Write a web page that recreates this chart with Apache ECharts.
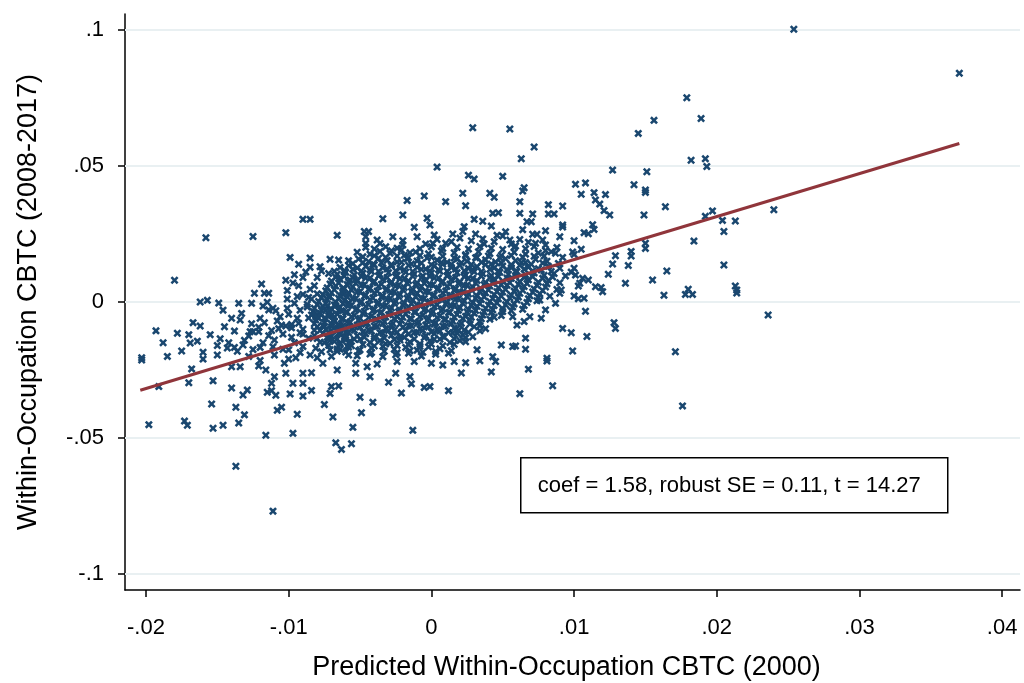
<!DOCTYPE html>
<html>
<head>
<meta charset="utf-8">
<script src="https://cdn.jsdelivr.net/npm/echarts@6/dist/echarts.min.js"></script>
<style>
  html, body { margin: 0; padding: 0; background: #ffffff; }
  #chart { width: 1024px; height: 683px; }
</style>
</head>
<body>
<div id="chart"></div>
<script>
// Occupations: [predicted within-occupation CBTC (2000), within-occupation CBTC (2008-2017)]
const occupationPoints = [
  // upper tail
  [.0029,.0641],[.0055,.0636],[.0072,.0570],[.0063,.0527],[.0004,.0496],[.0026,.0466],[.0030,.0452],[.0050,.0462],[.0065,.0420],
  [.0179,.0751],[.0156,.0668],[.0189,.0675],[.0145,.0620],[.0182,.0521],[.0192,.0527],[.0193,.0498],[.0127,.0485],[.0151,.0479],
  [.0101,.0433],[.0108,.0438],[.0142,.0431],[.0150,.0412],[.0254,.1003],[.0370,.0841],
  // right side
  [.0105,.0396],[.0114,.0402],[.0122,.0395],[.0150,.0403],[.0115,.0375],[.0118,.0360],[.0121,.0336],[.0125,.0320],[.0164,.0350],
  [.0149,.0320],[.0192,.0315],[.0197,.0335],[.0204,.0300],[.0213,.0298],[.0240,.0339],[.0205,.0259],[.0184,.0224],[.0113,.0284],
  [.0114,.0267],[.0107,.0255],[.0110,.0251],[.0100,.0225],[.0105,.0194],[.0099,.0184],[.0100,.0175],[.0150,.0216],[.0150,.0197],
  [.0140,.0186],[.0140,.0169],[.0129,.0170],[.0127,.0140],[.0138,.0134],[.0205,.0136],[.0165,.0114],[.0124,.0102],[.0155,.0081],
  [.0136,.0069],[.0110,.0081],[.0106,.0087],[.0100,.0124],[.0098,.0110],[.0101,.0099],[.0104,.0069],[.0103,.0059],[.0115,.0056],
  [.0119,.0053],[.0120,.0038],[.0100,.0022],[.0103,.0012],[.0107,.0014],[.0163,.0025],[.0180,.0047],[.0178,.0028],[.0183,.0028],
  [.0213,.0059],[.0214,.0044],[.0214,.0033],[.0108,-.0034],[.0128,-.0076],[.0129,-.0097],[.0098,-.0113],[.0109,-.0127],
  [.0099,-.0180],[.0171,-.0183],[.0236,-.0048],[.0176,-.0382],
  // lower middle
  [-.0050,-.0350],[-.0041,-.0369],[-.0049,-.0407],[-.0055,-.0461],[-.0056,-.0521],[-.0013,-.0472],[-.0030,-.0295],[-.0021,-.0335],
  [.0012,-.0326],[.0062,-.0337],[.0085,-.0308],[.0068,-.0247],[.0042,-.0257],[.0021,-.0261],[-.0014,-.0301],[-.0005,-.0314],
  [-.0001,-.0311],[-.0015,-.0275],[-.0025,-.0262],[-.0043,-.0275],[-.0053,-.0262],
  [-.0053,-.0225],[-.0045,-.0238],[-.0038,-.0228],[-.0024,-.0219],[-.0012,-.0219],[.0000,-.0225],[.0008,-.0232],[.0016,-.0219],
  [.0024,-.0223],[.0034,-.0216],[.0045,-.0219],[.0081,-.0217],
  // lower left
  [-.0198,-.0451],[-.0173,-.0438],[-.0171,-.0453],[-.0153,-.0464],[-.0146,-.0453],[-.0135,-.0445],[-.0131,-.0415],[-.0137,-.0387],
  [-.0154,-.0375],[-.0116,-.0490],[-.0097,-.0483],[-.0137,-.0604],[-.0111,-.0769],[-.0067,-.0518],[-.0063,-.0542],[-.0094,-.0413],
  [-.0075,-.0377],[-.0069,-.0423],[-.0108,-.0398],[-.0105,-.0387],[-.0132,-.0342],[-.0129,-.0324],[-.0140,-.0316],[-.0153,-.0290],
  [-.0170,-.0297],[-.0191,-.0311],[-.0168,-.0246],[-.0203,-.0213],[-.0115,-.0332],[-.0109,-.0343],[-.0112,-.0326],[-.0099,-.0338],
  [-.0090,-.0346],[-.0084,-.0325],[-.0071,-.0336],[-.0065,-.0309],[-.0070,-.0311],[-.0112,-.0299],[-.0097,-.0299],[-.0090,-.0299],
  [-.0110,-.0275],[-.0102,-.0262],[-.0090,-.0262],[-.0084,-.0260],[-.0116,-.0250],[-.0140,-.0238],[-.0134,-.0238],[-.0121,-.0235],
  [-.0103,-.0225],[-.0066,-.0250],[-.0076,-.0225],
  // left side
  [-.0180,.0080],[-.0158,.0236],[-.0125,.0241],[-.0102,.0255],[-.0090,.0304],[-.0085,.0304],[-.0066,.0245],[-.0099,.0164],
  [-.0093,.0139],[-.0085,.0162],[-.0085,.0128],[-.0071,.0157],[-.0065,.0154],[-.0077,.0114],[-.0072,.0105],[-.0068,.0113],
  [-.0061,.0114],[-.0162,.0000],[-.0157,.0006],[-.0149,-.0004],[-.0135,-.0005],[-.0126,-.0005],[-.0119,.0066],[-.0124,.0032],
  [-.0117,.0032],[-.0114,.0032],[-.0102,.0080],[-.0097,.0070],[-.0101,.0042],[-.0101,.0011],[-.0101,-.0023],[-.0085,.0047],
  [-.0090,.0028],[-.0086,.0017],[-.0084,.0011],[-.0087,-.0008],[-.0087,-.0018],[-.0081,-.0054],[-.0078,-.0042],[-.0072,.0019],
  [-.0073,-.0015],[-.0074,-.0032],[-.0067,-.0014],[-.0063,-.0032],[-.0058,-.0003],[-.0058,.0034],[-.0062,.0028],[-.0118,-.0015],
  [-.0115,-.0001],[-.0114,-.0029],[-.0111,-.0023],[-.0109,-.0032],[-.0106,-.0054],[-.0133,-.0042],[-.0134,-.0066],[-.0162,-.0088],
  [-.0167,-.0076],[-.0193,-.0106],[-.0178,-.0115],[-.0169,-.0151],[-.0164,-.0144],[-.0203,-.0205],[-.0185,-.0200],[-.0145,-.0091],
  [-.0138,-.0107],[-.0131,-.0141],[-.0127,-.0109],[-.0125,-.0109],[-.0121,-.0093],[-.0121,-.0109],[-.0114,-.0124],[-.0117,-.0076],
  [-.0107,-.0098],[-.0102,-.0088],[-.0098,-.0083],[-.0092,-.0113],[-.0086,-.0133],[-.0082,-.0104],[-.0079,-.0059],[-.0075,-.0089],
  [-.0070,-.0091],[-.0065,-.0083],[-.0143,-.0169],[-.0138,-.0167],[-.0136,-.0181],[-.0120,-.0167],[-.0111,-.0165],[-.0104,-.0174],
  [-.0100,-.0176],[-.0092,-.0186],[-.0090,-.0164],[-.0081,-.0170],[-.0077,-.0183],[-.0071,-.0176],[-.0066,-.0181],[-.0064,-.0174],
  [-.0059,-.0162],[-.0061,-.0128],[-.0065,-.0115],[-.0062,.0050],[-.0057,.0081],
  [-.0080,-.0045],[-.0075,-.0060],[-.0070,-.0050],[-.0068,-.0070],[-.0062,-.0060],[-.0058,-.0080],[-.0072,-.0130],[-.0068,-.0145],
  [-.0060,-.0140],[-.0075,-.0150],[-.0058,-.0195],[-.0070,-.0200],[-.0080,-.0205],[-.0085,-.0195],[-.0095,-.0205],[-.0110,-.0195],
  [-.0128,-.0200],[-.0150,-.0195],[-.0160,-.0210],[-.0120,-.0215],[-.0100,-.0210],
  [-.0155,-.0120],[-.0148,-.0135],[-.0142,-.0150],[-.0150,-.0160],[-.0128,-.0125],[-.0132,-.0158],[-.0125,-.0175],[-.0118,-.0150],
  [-.0110,-.0140],[-.0104,-.0118],[-.0098,-.0130],[-.0096,-.0150],[-.0090,-.0100],[-.0094,-.0060],[-.0100,-.0045],[-.0092,-.0030],
  [-.0096,-.0005],[-.0094,.0020],[-.0093,.0060],[-.0090,.0090],[-.0088,.0110],[-.0096,.0100],[-.0080,.0090],[-.0082,.0060],
  [-.0080,.0030],[-.0078,.0130],[-.0140,-.0060],[-.0146,-.0030],[-.0120,-.0060],[-.0126,-.0080],[-.0108,-.0070],[-.0112,-.0105],
  [-.0170,-.0120],[-.0175,-.0180],[-.0160,-.0185],[-.0188,-.0150],
  [-.0093,-.0078],[-.0098,-.0095],[-.0105,-.0085],[-.0090,-.0118],
  // upper middle
  [-.0005,.0390],[-.0017,.0373],[.0010,.0369],[.0022,.0400],[.0024,.0354],[.0041,.0400],[.0044,.0385],[.0062,.0369],[.0064,.0408],
  [-.0034,.0306],[-.0020,.0320],[-.0003,.0308],[-.0001,.0283],[-.0012,.0275],[.0030,.0304],[.0036,.0297],[.0042,.0279],[.0043,.0326],
  [.0047,.0328],[.0062,.0326],[.0071,.0324],[.0067,.0295],[.0070,.0295],[.0082,.0358],[.0082,.0324],[.0086,.0324],[.0092,.0353],
  [.0092,.0283],[.0092,.0276],[-.0047,.0259],[-.0044,.0259],[-.0046,.0240],[-.0038,.0228],[-.0027,.0240],[-.0020,.0225],[-.0046,.0216],
  [-.0046,.0201],[-.0028,.0188],[-.0021,.0191],[-.0015,.0181],[-.0004,.0213],[.0002,.0246],[.0001,.0216],[.0010,.0216],[.0014,.0222],
  [.0023,.0277],[.0022,.0259],[.0031,.0250],[.0037,.0213],[.0046,.0245],[.0050,.0243],[.0055,.0228],[.0056,.0213],[.0059,.0206],
  [.0071,.0249],[.0074,.0249],[.0073,.0216],[.0078,.0228],[.0080,.0189],[.0084,.0185],[.0087,.0179],[.0075,.0180],
  [-.0040,.0195],[-.0032,.0203],[-.0024,.0198],[-.0008,.0196],[.0000,.0203],[.0008,.0197],[.0018,.0201],[.0026,.0195],[.0034,.0204],
  [.0042,.0198],[.0050,.0193],[.0058,.0201],[.0066,.0196],[.0072,.0204],[-.0036,.0215],[-.0020,.0210],[.0004,.0230],[.0020,.0235],
  [.0028,.0225],[.0036,.0232],[.0044,.0222],[.0062,.0230],[.0068,.0220],[.0080,.0210],[.0088,.0200],[-.0010,.0240],[.0015,.0250],
  [.0052,.0258],[.0064,.0266],[.0080,.0262],[.0090,.0240],
  // core
  [-.0052,.0183],[-.0043,.0176],[-.0036,.0186],[-.0029,.0179],[-.0019,.0172],[-.0011,.0184],[-.0002,.0177],[.0007,.0188],[.0016,.0181],
  [.0024,.0174],[.0033,.0185],[.0041,.0178],[.0049,.0171],[.0058,.0183],[.0066,.0176],[.0079,.0169],[.0092,.0164],
  [-.0048,.0166],[-.0040,.0170],[-.0032,.0164],[-.0024,.0169],[-.0016,.0163],[-.0008,.0171],[.0000,.0165],[.0008,.0168],[.0016,.0162],
  [.0024,.0170],[.0032,.0164],[.0040,.0169],[.0048,.0163],[.0056,.0171],[.0064,.0165],[.0072,.0168],
  [-.0058,.0152],[-.0051,.0158],[-.0044,.0149],[-.0037,.0161],[-.0031,.0153],[-.0024,.0147],[-.0017,.0159],[-.0010,.0151],[-.0003,.0162],
  [.0004,.0154],[.0011,.0146],[.0018,.0158],[.0025,.0150],[.0031,.0163],[.0038,.0155],[.0045,.0147],[.0052,.0159],[.0059,.0152],
  [.0066,.0145],[.0073,.0157],[.0081,.0150],[.0089,.0142],
  [-.0055,.0141],[-.0048,.0145],[-.0041,.0139],[-.0035,.0144],[-.0028,.0138],[-.0021,.0146],[-.0014,.0140],[-.0007,.0143],[.0000,.0137],
  [.0007,.0145],[.0014,.0139],[.0021,.0144],[.0028,.0138],[.0035,.0146],[.0042,.0140],[.0049,.0143],[.0056,.0137],[.0063,.0145],
  [.0070,.0139],[.0078,.0143],
  [-.0064,.0127],[-.0058,.0134],[-.0052,.0125],[-.0046,.0131],[-.0040,.0137],[-.0034,.0126],[-.0028,.0133],[-.0022,.0124],[-.0016,.0135],
  [-.0010,.0128],[-.0004,.0121],[.0002,.0132],[.0008,.0139],[.0014,.0127],[.0020,.0134],[.0026,.0123],[.0032,.0130],[.0038,.0137],
  [.0044,.0125],[.0050,.0132],[.0056,.0126],[.0062,.0135],[.0068,.0128],[.0075,.0122],[.0082,.0131],[.0090,.0124],
  [-.0061,.0116],[-.0055,.0120],[-.0049,.0114],[-.0043,.0119],[-.0037,.0113],[-.0031,.0121],[-.0025,.0115],[-.0019,.0118],[-.0013,.0112],
  [-.0007,.0120],[-.0001,.0114],[.0005,.0119],[.0011,.0113],[.0017,.0121],[.0023,.0115],[.0029,.0118],[.0035,.0112],[.0041,.0120],
  [.0047,.0114],[.0053,.0119],[.0059,.0113],[.0065,.0121],[.0071,.0115],[.0077,.0118],[.0084,.0112],
  [-.0066,.0102],[-.0060,.0109],[-.0054,.0099],[-.0048,.0106],[-.0042,.0112],[-.0036,.0101],[-.0030,.0108],[-.0024,.0098],[-.0018,.0110],
  [-.0012,.0103],[-.0006,.0096],[.0000,.0107],[.0006,.0113],[.0012,.0101],[.0018,.0108],[.0024,.0099],[.0030,.0111],[.0036,.0104],
  [.0042,.0097],[.0048,.0109],[.0054,.0102],[.0060,.0112],[.0066,.0100],[.0072,.0107],[.0079,.0098],[.0086,.0105],[.0094,.0096],
  [-.0067,.0091],[-.0061,.0095],[-.0055,.0089],[-.0049,.0094],[-.0043,.0088],[-.0037,.0096],[-.0031,.0090],[-.0025,.0093],[-.0019,.0087],
  [-.0013,.0095],[-.0007,.0089],[-.0001,.0094],[.0005,.0088],[.0011,.0096],[.0017,.0090],[.0023,.0093],[.0029,.0087],[.0035,.0095],
  [.0041,.0089],[.0047,.0094],[.0053,.0088],[.0059,.0096],[.0065,.0090],[.0071,.0093],[.0078,.0087],[.0085,.0092],
  [-.0070,.0077],[-.0064,.0084],[-.0058,.0074],[-.0052,.0081],[-.0046,.0088],[-.0040,.0076],[-.0034,.0083],[-.0028,.0073],[-.0022,.0085],
  [-.0016,.0078],[-.0010,.0071],[-.0004,.0082],[.0002,.0088],[.0008,.0076],[.0014,.0083],[.0020,.0074],[.0026,.0086],[.0032,.0079],
  [.0038,.0072],[.0044,.0084],[.0050,.0077],[.0056,.0087],[.0062,.0075],[.0068,.0082],[.0075,.0073],[.0082,.0080],[.0090,.0071],
  [-.0071,.0066],[-.0065,.0070],[-.0059,.0064],[-.0053,.0069],[-.0047,.0063],[-.0041,.0071],[-.0035,.0065],[-.0029,.0068],[-.0023,.0062],
  [-.0017,.0070],[-.0011,.0064],[-.0005,.0069],[.0001,.0063],[.0007,.0071],[.0013,.0065],[.0019,.0068],[.0025,.0062],[.0031,.0070],
  [.0037,.0064],[.0043,.0069],[.0049,.0063],[.0055,.0071],[.0061,.0065],[.0067,.0068],[.0074,.0062],[.0081,.0067],
  [-.0073,.0052],[-.0067,.0059],[-.0061,.0049],[-.0055,.0056],[-.0049,.0062],[-.0043,.0051],[-.0037,.0058],[-.0031,.0048],[-.0025,.0060],
  [-.0019,.0053],[-.0013,.0046],[-.0007,.0057],[-.0001,.0063],[.0005,.0051],[.0011,.0058],[.0017,.0049],[.0023,.0061],[.0029,.0054],
  [.0035,.0047],[.0041,.0059],[.0047,.0052],[.0053,.0062],[.0059,.0050],[.0065,.0057],[.0072,.0048],[.0080,.0055],[.0088,.0046],
  [-.0074,.0041],[-.0068,.0045],[-.0062,.0039],[-.0056,.0044],[-.0050,.0038],[-.0044,.0046],[-.0038,.0040],[-.0032,.0043],[-.0026,.0037],
  [-.0020,.0045],[-.0014,.0039],[-.0008,.0044],[-.0002,.0038],[.0004,.0046],[.0010,.0040],[.0016,.0043],[.0022,.0037],[.0028,.0045],
  [.0034,.0039],[.0040,.0044],[.0046,.0038],[.0052,.0046],[.0058,.0040],[.0064,.0043],[.0071,.0037],[.0078,.0042],
  [-.0076,.0027],[-.0070,.0034],[-.0064,.0024],[-.0058,.0031],[-.0052,.0037],[-.0046,.0026],[-.0040,.0033],[-.0034,.0023],[-.0028,.0035],
  [-.0022,.0028],[-.0016,.0021],[-.0010,.0032],[-.0004,.0038],[.0002,.0026],[.0008,.0033],[.0014,.0024],[.0020,.0036],[.0026,.0029],
  [.0032,.0022],[.0038,.0034],[.0044,.0027],[.0050,.0037],[.0056,.0025],[.0062,.0032],[.0069,.0023],[.0076,.0030],[.0083,.0021],
  [-.0077,.0016],[-.0071,.0020],[-.0065,.0014],[-.0059,.0019],[-.0053,.0013],[-.0047,.0021],[-.0041,.0015],[-.0035,.0018],[-.0029,.0012],
  [-.0023,.0020],[-.0017,.0014],[-.0011,.0019],[-.0005,.0013],[.0001,.0021],[.0007,.0015],[.0013,.0018],[.0019,.0012],[.0025,.0020],
  [.0031,.0014],[.0037,.0019],[.0043,.0013],[.0049,.0021],[.0055,.0015],[.0061,.0018],[.0068,.0012],[.0075,.0017],
  [-.0079,.0002],[-.0073,.0009],[-.0067,-.0001],[-.0061,.0006],[-.0055,.0012],[-.0049,.0001],[-.0043,.0008],[-.0037,-.0002],[-.0031,.0010],
  [-.0025,.0003],[-.0019,-.0004],[-.0013,.0007],[-.0007,.0013],[-.0001,.0001],[.0005,.0008],[.0011,-.0001],[.0017,.0011],[.0023,.0004],
  [.0029,-.0003],[.0035,.0009],[.0041,.0002],[.0047,.0012],[.0053,.0000],[.0060,.0007],[.0067,-.0002],[.0074,.0005],
  [-.0080,-.0009],[-.0074,-.0005],[-.0068,-.0011],[-.0062,-.0006],[-.0056,-.0012],[-.0050,-.0004],[-.0044,-.0010],[-.0038,-.0007],
  [-.0032,-.0013],[-.0026,-.0005],[-.0020,-.0011],[-.0014,-.0006],[-.0008,-.0012],[-.0002,-.0004],[.0004,-.0010],[.0010,-.0007],
  [.0016,-.0013],[.0022,-.0005],[.0028,-.0011],[.0034,-.0006],[.0040,-.0012],[.0046,-.0004],[.0052,-.0010],[.0058,-.0007],[.0065,-.0013],
  [-.0082,-.0023],[-.0076,-.0016],[-.0070,-.0026],[-.0064,-.0019],[-.0058,-.0013],[-.0052,-.0024],[-.0046,-.0017],[-.0040,-.0027],
  [-.0034,-.0015],[-.0028,-.0022],[-.0022,-.0029],[-.0016,-.0018],[-.0010,-.0012],[-.0004,-.0024],[.0002,-.0017],[.0008,-.0026],
  [.0014,-.0014],[.0020,-.0021],[.0026,-.0028],[.0032,-.0016],[.0038,-.0023],[.0044,-.0013],[.0050,-.0025],[.0057,-.0018],[.0064,-.0027],
  [-.0083,-.0034],[-.0077,-.0030],[-.0071,-.0036],[-.0065,-.0031],[-.0059,-.0037],[-.0053,-.0029],[-.0047,-.0035],[-.0041,-.0032],
  [-.0035,-.0038],[-.0029,-.0030],[-.0023,-.0036],[-.0017,-.0031],[-.0011,-.0037],[-.0005,-.0029],[.0001,-.0035],[.0007,-.0032],
  [.0013,-.0038],[.0019,-.0030],[.0025,-.0036],[.0031,-.0031],[.0037,-.0037],[.0043,-.0029],[.0050,-.0035],[.0056,-.0032],
  [-.0084,-.0048],[-.0078,-.0041],[-.0072,-.0051],[-.0066,-.0044],[-.0060,-.0038],[-.0054,-.0049],[-.0048,-.0042],[-.0042,-.0052],
  [-.0036,-.0040],[-.0030,-.0047],[-.0024,-.0054],[-.0018,-.0043],[-.0012,-.0037],[-.0006,-.0049],[.0000,-.0042],[.0006,-.0051],
  [.0012,-.0039],[.0018,-.0046],[.0024,-.0053],[.0030,-.0041],[.0036,-.0048],[.0042,-.0038],[.0049,-.0050],
  [-.0086,-.0059],[-.0080,-.0055],[-.0074,-.0061],[-.0068,-.0056],[-.0062,-.0062],[-.0056,-.0054],[-.0050,-.0060],[-.0044,-.0057],
  [-.0038,-.0063],[-.0032,-.0055],[-.0026,-.0061],[-.0020,-.0056],[-.0014,-.0062],[-.0008,-.0054],[-.0002,-.0060],[.0004,-.0057],
  [.0010,-.0063],[.0016,-.0055],[.0022,-.0061],[.0028,-.0056],[.0035,-.0062],[.0044,-.0056],
  [-.0081,-.0066],[-.0075,-.0076],[-.0069,-.0069],[-.0063,-.0063],[-.0057,-.0074],[-.0051,-.0067],[-.0045,-.0077],
  [-.0039,-.0065],[-.0033,-.0072],[-.0027,-.0079],[-.0021,-.0068],[-.0015,-.0062],[-.0009,-.0074],[-.0003,-.0067],[.0003,-.0076],
  [.0009,-.0064],[.0015,-.0071],[.0021,-.0078],[.0027,-.0066],[.0034,-.0073],[.0041,-.0063],
  [-.0082,-.0080],[-.0076,-.0086],[-.0070,-.0081],[-.0064,-.0087],[-.0058,-.0079],[-.0052,-.0085],[-.0046,-.0082],
  [-.0040,-.0088],[-.0034,-.0080],[-.0028,-.0086],[-.0022,-.0081],[-.0016,-.0087],[-.0010,-.0079],[-.0004,-.0085],[.0002,-.0082],
  [.0008,-.0088],[.0014,-.0080],[.0020,-.0086],[.0027,-.0081],[.0034,-.0087],
  [-.0080,-.0091],[-.0074,-.0101],[-.0068,-.0094],[-.0062,-.0088],[-.0056,-.0099],[-.0050,-.0092],[-.0044,-.0102],
  [-.0038,-.0090],[-.0032,-.0097],[-.0026,-.0104],[-.0020,-.0093],[-.0014,-.0087],[-.0008,-.0099],[-.0002,-.0092],[.0004,-.0101],
  [.0010,-.0089],[.0016,-.0096],[.0023,-.0103],[.0030,-.0091],[.0038,-.0098],
  [-.0078,-.0105],[-.0072,-.0111],[-.0066,-.0106],[-.0060,-.0112],[-.0054,-.0104],[-.0048,-.0110],[-.0042,-.0107],
  [-.0036,-.0113],[-.0030,-.0105],[-.0024,-.0111],[-.0018,-.0106],[-.0012,-.0112],[-.0006,-.0104],[.0000,-.0110],[.0006,-.0107],
  [.0012,-.0113],[.0019,-.0105],[.0026,-.0111],[.0034,-.0106],
  [-.0082,-.0123],[-.0076,-.0116],[-.0070,-.0126],[-.0064,-.0119],[-.0058,-.0113],[-.0052,-.0124],[-.0046,-.0117],[-.0040,-.0127],
  [-.0034,-.0115],[-.0028,-.0122],[-.0022,-.0129],[-.0016,-.0118],[-.0010,-.0112],[-.0004,-.0124],[.0002,-.0117],[.0008,-.0126],
  [.0015,-.0114],[.0022,-.0121],[.0029,-.0128],
  [-.0080,-.0134],[-.0073,-.0130],[-.0066,-.0136],[-.0060,-.0131],[-.0054,-.0137],[-.0047,-.0129],[-.0040,-.0135],[-.0033,-.0132],
  [-.0026,-.0138],[-.0019,-.0130],[-.0012,-.0136],[-.0005,-.0131],[.0002,-.0137],[.0009,-.0129],[.0016,-.0135],[.0024,-.0132],
  [-.0078,-.0148],[-.0071,-.0141],[-.0064,-.0151],[-.0057,-.0144],[-.0050,-.0138],[-.0043,-.0149],[-.0036,-.0142],[-.0029,-.0152],
  [-.0022,-.0140],[-.0015,-.0147],[-.0008,-.0154],[-.0001,-.0143],[.0006,-.0137],[.0013,-.0149],[.0020,-.0142],
  [-.0072,-.0159],[-.0064,-.0155],[-.0056,-.0161],[-.0048,-.0156],[-.0040,-.0162],[-.0032,-.0154],[-.0024,-.0160],[-.0016,-.0157],
  [-.0008,-.0163],[.0000,-.0155],[.0008,-.0161],[.0016,-.0156],
  [-.0066,-.0173],[-.0058,-.0166],[-.0050,-.0176],[-.0042,-.0169],[-.0034,-.0163],[-.0026,-.0174],[-.0018,-.0167],[-.0010,-.0177],
  [-.0002,-.0165],[.0006,-.0172],[.0014,-.0179],
  [-.0060,-.0184],[-.0051,-.0180],[-.0042,-.0186],[-.0033,-.0181],[-.0024,-.0187],[-.0015,-.0179],[-.0006,-.0185],[.0003,-.0182],[.0012,-.0188],
  [-.0052,-.0198],[-.0043,-.0191],[-.0034,-.0201],[-.0025,-.0194],[-.0016,-.0188],[-.0007,-.0199],[.0003,-.0192],
  // core, right-hand fringe
  [.0057,-.0054],[.0060,-.0085],[.0049,-.0158],[.0057,-.0164],[.0066,-.0133],[.0066,-.0174],[.0059,-.0162],[.0043,-.0201],
  [.0032,-.0176],[.0024,-.0146],[.0018,-.0115],[.0081,-.0207],[.0092,-.0097],[.0090,.0032],[.0091,.0044],[.0087,-.0005],
  [.0076,.0007],[.0080,-.0029],[.0077,-.0060],[.0069,-.0054],[.0065,-.0072]
];

// Axis ticks and labels
const xTickValues = [-0.02, -0.01, 0, 0.01, 0.02, 0.03, 0.04];
const xTickLabels = ['-.02', '-.01', '0', '.01', '.02', '.03', '.04'];
const yTickValues = [-0.1, -0.05, 0, 0.05, 0.1];
const yTickLabels = ['-.1', '-.05', '0', '.05', '.1'];
const xAxisRange = [-0.02147, 0.04125];
const yAxisRange = [-0.1059, 0.1059];

// Linear fit
const fitCoef = 1.58;
const fitIntercept = -0.0002;
const fitXRange = [-0.0204, 0.0370];
const statsText = 'coef = 1.58, robust SE = 0.11, t = 14.27';

const xTitle = 'Predicted Within-Occupation CBTC (2000)';
const yTitle = 'Within-Occupation CBTC (2008-2017)';

const FONT = "'Liberation Sans', Arial, sans-serif";
const NAVY = '#1a476f';
const MAROON = '#90353b';

function tickText(values, labels) {
  return function (v) {
    const i = values.findIndex(t => Math.abs(t - v) < 1e-9);
    return i >= 0 ? labels[i] : '';
  };
}

const fitLine = fitXRange.map(x => [x, fitIntercept + fitCoef * x]);

const chart = echarts.init(document.getElementById('chart'), null, { renderer: 'canvas' });
chart.setOption({
  animation: false,
  backgroundColor: '#ffffff',
  grid: { left: 125, right: 4, top: 14, bottom: 93, containLabel: false, outerBoundsMode: 'none' },
  xAxis: {
    type: 'value',
    min: xAxisRange[0],
    max: xAxisRange[1],
    name: xTitle,
    nameLocation: 'middle',
    nameGap: 64,
    nameTextStyle: { fontFamily: FONT, fontSize: 27, color: '#000', padding: [0, 12, 0, 0] },
    axisLine: { show: true, onZero: false, lineStyle: { color: '#000', width: 1.5 } },
    axisTick: { show: true, inside: false, length: 7, lineStyle: { color: '#000', width: 1.5 }, customValues: xTickValues },
    axisLabel: { show: true, margin: 27, fontFamily: FONT, fontSize: 22, color: '#000', customValues: xTickValues, formatter: tickText(xTickValues, xTickLabels) },
    splitLine: { show: false }
  },
  yAxis: {
    type: 'value',
    min: yAxisRange[0],
    max: yAxisRange[1],
    name: yTitle,
    nameLocation: 'middle',
    nameGap: 83,
    nameRotate: 90,
    nameTextStyle: { fontFamily: FONT, fontSize: 27, color: '#000' },
    axisLine: { show: true, onZero: false, lineStyle: { color: '#000', width: 1.5 } },
    axisTick: { show: true, inside: false, length: 7, lineStyle: { color: '#000', width: 1.5 }, customValues: yTickValues },
    axisLabel: { show: true, margin: 21, fontFamily: FONT, fontSize: 22, color: '#000', customValues: yTickValues, formatter: tickText(yTickValues, yTickLabels) },
    splitLine: { show: false }
  },
  series: [
    {
      // horizontal grid lines at the y ticks, kept beneath the markers
      type: 'line',
      data: [],
      z: 1,
      silent: true,
      markLine: {
        z: 1,
        silent: true,
        symbol: ['none', 'none'],
        label: { show: false },
        lineStyle: { color: '#e9f0f2', width: 2, type: 'solid' },
        data: yTickValues.map(v => ({ yAxis: v }))
      }
    },
    {
      type: 'scatter',
      data: occupationPoints,
      z: 3,
      symbol: 'path://M1.8,0 L4,2.2 L6.2,0 L8,1.8 L5.8,4 L8,6.2 L6.2,8 L4,5.8 L1.8,8 L0,6.2 L2.2,4 L0,1.8 Z',
      symbolSize: 8,
      itemStyle: { color: NAVY, opacity: 1 },
      large: false
    },
    {
      type: 'line',
      data: fitLine,
      z: 4,
      symbol: 'none',
      lineStyle: { color: MAROON, width: 3 }
    }
  ],
  graphic: [
    {
      type: 'group',
      left: 520,
      top: 457,
      children: [
        { type: 'rect', shape: { x: 0, y: 0, width: 427, height: 55 }, style: { fill: '#fff', stroke: '#000', lineWidth: 1.5 } },
        { type: 'text', x: 17, y: 28, style: { text: statsText, font: '22px ' + FONT, fill: '#000', verticalAlign: 'middle' } }
      ]
    }
  ]
});
</script>
</body>
</html>
